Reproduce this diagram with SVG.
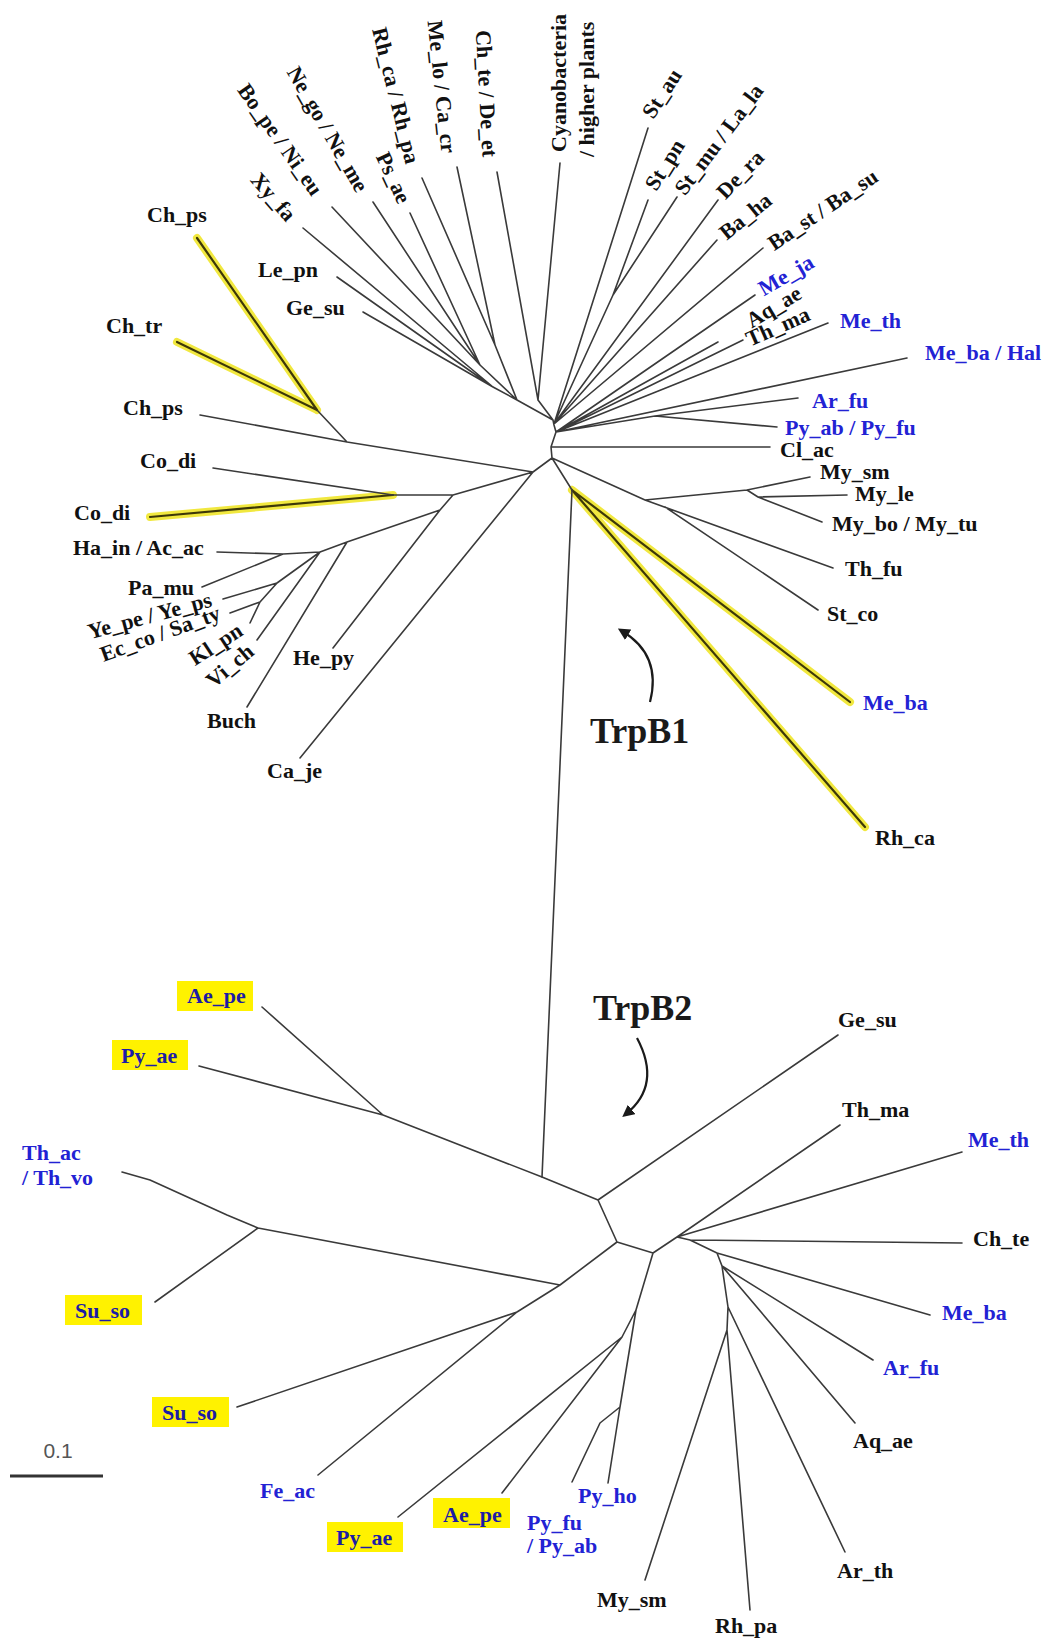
<svg xmlns="http://www.w3.org/2000/svg" width="1050" height="1638" viewBox="0 0 1050 1638">
<defs>
<style>
.e{stroke:#3a3a3a;stroke-width:1.6;fill:none;stroke-linecap:round;stroke-linejoin:round}
.yh{stroke:#f0e52a;stroke-width:8;fill:none;stroke-linecap:round;opacity:0.9}
.yc{stroke:#3d3808;stroke-width:2.2;fill:none;stroke-linecap:round}
.t{font-family:"Liberation Serif","Times New Roman",serif;font-weight:bold;font-size:22px;fill:#111}
.b{fill:#2222d4}
.bx{fill:#1c1ca6}
.hl{fill:#fff200}
.big{font-family:"Liberation Serif","Times New Roman",serif;font-weight:bold;font-size:36px;fill:#1a1a1a}
.arr{stroke:#1a1a1a;stroke-width:2.2;fill:none}
</style>
<marker id="ah" viewBox="0 0 10 10" refX="6" refY="5" markerWidth="5.5" markerHeight="5.5" orient="auto"><path d="M0,0 L10,5 L0,10 z" fill="#1a1a1a"/></marker>
</defs>
<rect width="1050" height="1638" fill="#ffffff"/>

<g id="connectors">
<!-- yellow highlights -->
<path class="yh" d="M317,410 L197,238 M317,410 L177,342 M393,495 L150,517 M572,490 L850,702 M572,490 L865,827"/>
<path class="yc" d="M317,410 L197,238 M317,410 L177,342 M393,495 L150,517 M572,490 L850,702 M572,490 L865,827"/>
<!-- upper tree -->
<path class="e" d="M553,420 L554,425 L556,432 L551,447 L552,458
M553,420 L538,400 M538,400 L560,163 M538,400 L497,172
M553,420 L517,400 M517,400 L495,345 M495,345 L457,167 M495,345 L422,178
M517,400 L480,365 M480,365 L410,213 M480,365 L373,202 M480,365 L332,207
M517,400 L493,387 M493,387 L303,228 M493,387 L337,277 M493,387 L363,312
M554,424 L648,128 M554,424 L613,295 M613,295 L648,200 M613,295 L677,197
M554,424 L718,200 M554,424 L717,240 M554,424 L763,248
M556,432 L755,295 M556,432 L718,342 M556,432 L743,340 M556,432 L828,323 M556,432 L907,358
M556,432 L655,416 M655,416 L798,398 M655,416 L777,427
M551,447 L770,447
M552,458 L645,500 M645,500 L747,490 M747,490 L810,477 M747,490 L758,497 M758,497 L847,495 M758,497 L822,522
M645,500 L833,568 M665,507 L818,610
M552,458 L572,490 M572,490 L542,1177
M552,458 L533,472 M533,472 L347,442 M347,442 L200,415 M347,442 L317,410
M533,472 L453,495 M453,495 L393,495 M393,495 L213,468
M453,495 L440,510 M440,510 L333,648 M440,510 L347,542 M347,542 L247,707
M347,542 L320,552 M320,552 L283,554 M283,554 L217,552 M283,554 L202,587
M320,552 L277,583 M277,583 L223,599 M277,583 L260,602 M260,602 L230,613 M260,602 L250,623
M320,552 L257,640
M533,472 L300,758"/>
<!-- lower tree -->
<path class="e" d="M542,1177 L383,1115 M383,1115 L262,1007 M383,1115 L199,1066
M542,1177 L598,1200 M598,1200 L838,1035 M598,1200 L617,1242
M617,1242 L653,1253 M617,1242 L560,1285
M560,1285 L258,1228 M258,1228 L227,1215 L150,1180 L122,1172 M258,1228 L155,1302
M560,1285 L517,1312 M517,1312 L237,1407 M517,1312 L318,1475
M653,1253 L677,1237 M677,1237 L840,1125 M677,1237 L962,1152
M677,1237 L690,1240 M690,1240 L962,1243 M690,1240 L717,1253 M717,1253 L930,1315
M717,1253 L722,1266 M722,1266 L873,1360 M722,1266 L855,1423
M722,1266 L728,1307 M728,1307 L845,1552 M728,1307 L727,1330 M727,1330 L750,1610 M727,1330 L645,1580
M653,1253 L636,1310 M636,1310 L622,1337 M622,1337 L398,1517 M622,1337 L502,1493
M636,1310 L620,1407 M620,1407 L608,1483 M620,1407 L600,1423 L572,1482"/>
<!-- TrpB arrows -->
<path class="arr" d="M650,702 Q662,655 622,631" marker-end="url(#ah)"/>
<path class="arr" d="M637,1038 Q662,1085 626,1114" marker-end="url(#ah)"/>
<!-- scale bar -->
<line x1="10" y1="1476" x2="103" y2="1476" stroke="#333" stroke-width="3"/>
</g>

<!-- upper tree labels, upper-left rotated -->
<g id="n-xyfa"><text class="t" transform="translate(292,218) rotate(49)" text-anchor="end" dominant-baseline="central">Xy_fa</text></g>
<g id="n-bope"><text class="t" transform="translate(318,193) rotate(55)" text-anchor="end" dominant-baseline="central">Bo_pe / Ni_eu</text></g>
<g id="n-nego"><text class="t" transform="translate(363,190) rotate(60)" text-anchor="end" dominant-baseline="central">Ne_go / Ne_me</text></g>
<g id="n-psae"><text class="t" transform="translate(405,202) rotate(65)" text-anchor="end" dominant-baseline="central">Ps_ae</text></g>
<g id="n-rhca1"><text class="t" transform="translate(413,163) rotate(76)" text-anchor="end" dominant-baseline="central">Rh_ca / Rh_pa</text></g>
<g id="n-melo"><text class="t" transform="translate(449,153) rotate(84)" text-anchor="end" dominant-baseline="central">Me_lo / Ca_cr</text></g>
<g id="n-chte1"><text class="t" transform="translate(490,157) rotate(87)" text-anchor="end" dominant-baseline="central">Ch_te / De_et</text></g>
<g id="n-cyano"><text class="t" transform="translate(566,152) rotate(-90)">Cyanobacteria</text><text class="t" transform="translate(594,157) rotate(-90)">/ higher plants</text></g>
<!-- upper-right rotated -->
<g id="n-stau"><text class="t" transform="translate(647,116) rotate(-57)" dominant-baseline="central">St_au</text></g>
<g id="n-stpn"><text class="t" transform="translate(650,188) rotate(-58)" dominant-baseline="central">St_pn</text></g>
<g id="n-stmu"><text class="t" transform="translate(679,192) rotate(-53)" dominant-baseline="central">St_mu / La_la</text></g>
<g id="n-dera"><text class="t" transform="translate(720,195) rotate(-46)" dominant-baseline="central">De_ra</text></g>
<g id="n-baha"><text class="t" transform="translate(722,235) rotate(-39)" dominant-baseline="central">Ba_ha</text></g>
<g id="n-bast"><text class="t" transform="translate(770,245) rotate(-34)" dominant-baseline="central">Ba_st / Ba_su</text></g>
<g id="n-meja"><text class="t b" transform="translate(760,290) rotate(-30)" dominant-baseline="central">Me_ja</text></g>
<g id="n-aqae1"><text class="t" transform="translate(748,322) rotate(-31)" dominant-baseline="central">Aq_ae</text></g>
<g id="n-thma1"><text class="t" transform="translate(747,340) rotate(-24)" dominant-baseline="central">Th_ma</text></g>
<!-- upper-right horizontal -->
<g id="n-meth1"><text class="t b" x="840" y="328">Me_th</text></g>
<g id="n-mebahal"><text class="t b" x="925" y="360">Me_ba / Hal</text></g>
<g id="n-arfu1"><text class="t b" x="812" y="408">Ar_fu</text></g>
<g id="n-pyab1"><text class="t b" x="785" y="435">Py_ab / Py_fu</text></g>
<g id="n-clac"><text class="t" x="780" y="457">Cl_ac</text></g>
<g id="n-mysm1"><text class="t" x="820" y="479">My_sm</text></g>
<g id="n-myle"><text class="t" x="855" y="501">My_le</text></g>
<g id="n-mybo"><text class="t" x="832" y="531">My_bo / My_tu</text></g>
<g id="n-thfu"><text class="t" x="845" y="576">Th_fu</text></g>
<g id="n-stco"><text class="t" x="827" y="621">St_co</text></g>
<g id="n-meba1"><text class="t b" x="863" y="710">Me_ba</text></g>
<g id="n-rhca2"><text class="t" x="875" y="845">Rh_ca</text></g>
<!-- upper-left horizontal -->
<g id="n-chps1"><text class="t" x="147" y="222">Ch_ps</text></g>
<g id="n-lepn"><text class="t" x="258" y="277">Le_pn</text></g>
<g id="n-gesu1"><text class="t" x="286" y="315">Ge_su</text></g>
<g id="n-chtr"><text class="t" x="106" y="333">Ch_tr</text></g>
<g id="n-chps2"><text class="t" x="123" y="415">Ch_ps</text></g>
<g id="n-codi1"><text class="t" x="140" y="468">Co_di</text></g>
<g id="n-codi2"><text class="t" x="74" y="520">Co_di</text></g>
<g id="n-hain"><text class="t" x="73" y="555">Ha_in / Ac_ac</text></g>
<g id="n-pamu"><text class="t" x="128" y="595">Pa_mu</text></g>
<g id="n-yepe"><text class="t" transform="translate(88,632) rotate(-15)" dominant-baseline="central">Ye_pe / Ye_ps</text></g>
<g id="n-ecco"><text class="t" transform="translate(101,655) rotate(-20)" dominant-baseline="central">Ec_co / Sa_ty</text></g>
<g id="n-klpn"><text class="t" transform="translate(191,660) rotate(-33)" dominant-baseline="central">Kl_pn</text></g>
<g id="n-vich"><text class="t" transform="translate(209,683) rotate(-40)" dominant-baseline="central">Vi_ch</text></g>
<g id="n-buch"><text class="t" x="207" y="728">Buch</text></g>
<g id="n-hepy"><text class="t" x="293" y="665">He_py</text></g>
<g id="n-caje"><text class="t" x="267" y="778">Ca_je</text></g>

<g id="n-trpb1"><text class="big" x="590" y="743">TrpB1</text></g>
<g id="n-trpb2"><text class="big" x="593" y="1020">TrpB2</text></g>

<!-- lower tree labels -->
<g id="n-aepe1"><rect class="hl" x="177" y="981" width="76" height="30"/><text class="t bx" x="187" y="1003">Ae_pe</text></g>
<g id="n-pyae1"><rect class="hl" x="112" y="1040" width="76" height="30"/><text class="t bx" x="121" y="1063">Py_ae</text></g>
<g id="n-thac"><text class="t b" x="22" y="1160">Th_ac</text><text class="t b" x="22" y="1185">/ Th_vo</text></g>
<g id="n-suso1"><rect class="hl" x="65" y="1295" width="77" height="30"/><text class="t bx" x="75" y="1318">Su_so</text></g>
<g id="n-suso2"><rect class="hl" x="152" y="1397" width="77" height="30"/><text class="t bx" x="162" y="1420">Su_so</text></g>
<g id="n-feac"><text class="t b" x="260" y="1498" font-weight="normal">Fe_ac</text></g>
<g id="n-pyae2"><rect class="hl" x="327" y="1522" width="76" height="30"/><text class="t bx" x="336" y="1545">Py_ae</text></g>
<g id="n-aepe2"><rect class="hl" x="433" y="1498" width="77" height="30"/><text class="t bx" x="443" y="1522">Ae_pe</text></g>
<g id="n-pyho"><text class="t b" x="578" y="1503">Py_ho</text></g>
<g id="n-pyfu"><text class="t b" x="527" y="1530">Py_fu</text><text class="t b" x="527" y="1553">/ Py_ab</text></g>
<g id="n-mysm2"><text class="t" x="597" y="1607">My_sm</text></g>
<g id="n-rhpa"><text class="t" x="715" y="1633">Rh_pa</text></g>
<g id="n-arth"><text class="t" x="837" y="1578">Ar_th</text></g>
<g id="n-aqae2"><text class="t" x="853" y="1448">Aq_ae</text></g>
<g id="n-arfu2"><text class="t b" x="883" y="1375">Ar_fu</text></g>
<g id="n-meba2"><text class="t b" x="942" y="1320">Me_ba</text></g>
<g id="n-chte2"><text class="t" x="973" y="1246">Ch_te</text></g>
<g id="n-meth2"><text class="t b" x="968" y="1147">Me_th</text></g>
<g id="n-thma2"><text class="t" x="842" y="1117">Th_ma</text></g>
<g id="n-gesu2"><text class="t" x="838" y="1027">Ge_su</text></g>
<g id="n-scale"><text x="58" y="1458" text-anchor="middle" font-family="Liberation Sans, Arial, sans-serif" font-size="21" fill="#555">0.1</text></g>
</svg>
